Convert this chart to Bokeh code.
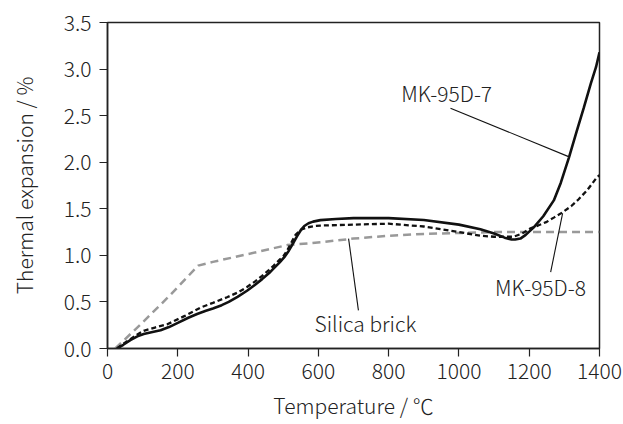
from bokeh.plotting import figure
from bokeh.models import Range1d, ColumnDataSource, CustomJSTickFormatter
from bokeh.core.properties import value
from bokeh.embed import file_html
from bokeh.resources import INLINE

# --- data ---
mk7_t = [27, 45, 65, 85, 103, 125, 151, 175, 200, 230, 255, 280, 300, 325, 345, 370, 397, 420, 440, 460, 473, 490,
         505, 516, 528, 540, 550, 560, 572, 585, 606, 650,
         700, 800, 900, 1000, 1061, 1100, 1130, 1150, 1160, 1175, 1190, 1213, 1240, 1270, 1290, 1313, 1335, 1355, 1375, 1390, 1400]
mk7_v = [0.0, 0.04, 0.09, 0.13, 0.155, 0.175, 0.195, 0.23, 0.275, 0.33, 0.37, 0.405, 0.43, 0.465, 0.50, 0.555, 0.62, 0.685, 0.745, 0.81, 0.86, 0.925,
         0.99, 1.05, 1.13, 1.21, 1.27, 1.315, 1.345, 1.362, 1.378, 1.39,
         1.40, 1.40, 1.38, 1.33, 1.28, 1.235, 1.19, 1.17, 1.17, 1.18, 1.22, 1.30, 1.42, 1.59, 1.78, 2.05, 2.33, 2.58, 2.84, 3.02, 3.18]

mk8_t = [27, 45, 65, 85, 103, 135, 170, 220, 265, 300, 340, 370, 397, 420, 440, 460, 473, 490, 500, 511, 525, 535, 550, 568, 590, 606,
         700, 800, 900, 1000, 1061, 1100, 1156, 1180, 1204, 1225, 1250, 1270, 1294, 1320, 1340, 1365, 1393, 1400]
mk8_v = [0.0, 0.05, 0.10, 0.15, 0.19, 0.225, 0.26, 0.35, 0.44, 0.49, 0.55, 0.60, 0.66, 0.72, 0.78, 0.845, 0.89, 0.955, 0.99, 1.05, 1.15, 1.22, 1.275, 1.30, 1.315, 1.32,
         1.33, 1.34, 1.31, 1.25, 1.21, 1.20, 1.20, 1.235, 1.29, 1.32, 1.36, 1.405, 1.46, 1.53, 1.60, 1.70, 1.84, 1.86]

silica_t = [22, 100, 180, 258, 300, 407, 511, 606, 700, 800, 900, 1000, 1100, 1200, 1300, 1400]
silica_v = [0.0, 0.28, 0.58, 0.89, 0.93, 1.02, 1.11, 1.14, 1.18, 1.21, 1.23, 1.24, 1.25, 1.25, 1.25, 1.25]

x_ticks = [0, 200, 400, 600, 800, 1000, 1200, 1400]
y_ticks = [0.0, 0.5, 1.0, 1.5, 2.0, 2.5, 3.0, 3.5]

labels = ["MK-95D-7", "MK-95D-8", "Silica brick"]
label_t = [965, 1232, 734]
label_v = [2.74, 0.655, 0.27]
leader_t0 = [976, 1295, 686]
leader_v0 = [2.58, 1.45, 1.18]
leader_t1 = [1312, 1261, 714]
leader_v1 = [2.06, 0.82, 0.41]

FONT = "Noto Sans CJK JP Light"
TXT = "#222222"
FS = "21px"

p = figure(width=623, height=424, output_backend="svg", toolbar_location=None,
           x_range=Range1d(0, 1400), y_range=Range1d(0, 3.5),
           min_border_left=107, min_border_right=24, min_border_top=22, min_border_bottom=76)
p.grid.visible = False
p.outline_line_color = "#222222"
p.outline_line_width = 1.5
p.background_fill_color = "white"
p.border_fill_color = "white"

for ax in (p.xaxis, p.yaxis):
    ax.axis_line_color = "#222222"
    ax.axis_line_width = 1.5
    ax.major_tick_line_color = "#222222"
    ax.major_tick_line_width = 1.2
    ax.major_tick_out = 8
    ax.major_tick_in = 0
    ax.minor_tick_line_color = None
    ax.major_label_text_font = FONT
    ax.major_label_text_font_size = FS
    ax.major_label_text_color = TXT
    ax.axis_label_text_font = FONT
    ax.axis_label_text_font_size = FS
    ax.axis_label_text_color = TXT
    ax.axis_label_text_font_style = "normal"

p.xaxis.ticker = x_ticks
p.yaxis.ticker = y_ticks
p.yaxis.formatter = CustomJSTickFormatter(code="return tick.toFixed(1);")
p.xaxis.major_label_standoff = 6
p.yaxis.major_label_standoff = 8
p.xaxis.axis_label = "Temperature / ℃"
p.yaxis.axis_label = "Thermal expansion / %"
p.xaxis.axis_label_standoff = 8
p.yaxis.axis_label_standoff = 22

p.line(silica_t, silica_v, line_color="#999999", line_width=2.5, line_dash="8 5")
p.line(mk8_t, mk8_v, line_color="#111111", line_width=2.3, line_dash="5 3")
p.line(mk7_t, mk7_v, line_color="#111111", line_width=2.6)

p.segment(x0=leader_t0, y0=leader_v0, x1=leader_t1, y1=leader_v1, line_color="#111111", line_width=1.1)
src = ColumnDataSource(dict(x=label_t, y=label_v, t=labels))
p.text(x="x", y="y", text="t", source=src, text_font=value(FONT), text_font_size=FS,
       text_color=TXT, text_align="center", text_baseline="middle")

open("out.html", "w").write(file_html(p, INLINE))
